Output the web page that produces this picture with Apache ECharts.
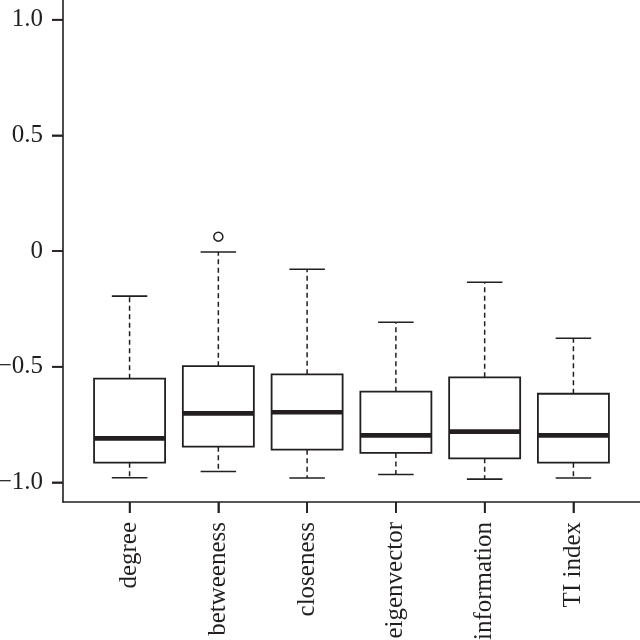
<!DOCTYPE html>
<html><head><meta charset="utf-8">
<script src="https://cdn.jsdelivr.net/npm/echarts@6/dist/echarts.min.js"></script>
<style>html,body{margin:0;padding:0;background:#fff}#c{width:640px;height:640px}</style>
</head><body><div id="c"></div>
<script>
const categories = ['degree','betweeness','closeness','eigenvector','information','TI index'];
const lowerWhisker = [-0.980,-0.953,-0.981,-0.966,-0.986,-0.981];
const q1 = [-0.915,-0.846,-0.859,-0.873,-0.896,-0.915];
const median = [-0.810,-0.702,-0.697,-0.797,-0.781,-0.797];
const q3 = [-0.552,-0.498,-0.533,-0.608,-0.546,-0.617];
const upperWhisker = [-0.195,-0.004,-0.079,-0.308,-0.135,-0.377];
const outliers = [[1, 0.062]];
const yTickValues = [-1,-0.5,0,0.5,1];
const yTickLabels = ['\u22121.0','\u22120.5','0','0.5','1.0'];

const C = '#231f20';
const FONT = '"Liberation Serif", "Times New Roman", Times, serif';
const X_MIN = -0.75, X_MAX = 5.75, Y_MIN = -1.085, Y_MAX = 1.085;
const TICK_LEN = 11;

const boxData = categories.map((c, i) => [i, lowerWhisker[i], q1[i], median[i], q3[i], upperWhisker[i]]);
const xTickIdx = categories.map((c, i) => i);

function renderItem(params, api) {
  const i = api.value(0);
  const bw = api.size([1, 0])[0];
  const half = bw * 0.4, cap = bw * 0.2;
  const pLo = api.coord([i, api.value(1)]);
  const pQ1 = api.coord([i, api.value(2)]);
  const pMed = api.coord([i, api.value(3)]);
  const pQ3 = api.coord([i, api.value(4)]);
  const pHi = api.coord([i, api.value(5)]);
  const x = pQ1[0];
  const dash = {stroke: C, lineWidth: 1.5, lineDash: [5, 3.5], fill: null};
  const solid = {stroke: C, lineWidth: 1.6, fill: null};
  return {
    type: 'group',
    children: [
      {type: 'line', shape: {x1: x, y1: pQ3[1], x2: x, y2: pHi[1]}, style: dash},
      {type: 'line', shape: {x1: x, y1: pQ1[1], x2: x, y2: pLo[1]}, style: dash},
      {type: 'line', shape: {x1: x - cap, y1: pHi[1], x2: x + cap, y2: pHi[1]}, style: solid},
      {type: 'line', shape: {x1: x - cap, y1: pLo[1], x2: x + cap, y2: pLo[1]}, style: solid},
      {type: 'rect', shape: {x: x - half, y: pQ3[1], width: 2 * half, height: pQ1[1] - pQ3[1]}, style: {stroke: C, lineWidth: 1.8, fill: '#fff'}},
      {type: 'line', shape: {x1: x - half, y1: pMed[1], x2: x + half, y2: pMed[1]}, style: {stroke: C, lineWidth: 4.6}}
    ]
  };
}

const chart = echarts.init(document.getElementById('c'), null, {renderer: 'canvas'});
chart.setOption({
  animation: false,
  backgroundColor: '#fff',
  grid: {left: 63, right: 0, top: 0, bottom: 138, containLabel: false, outerBoundsMode: 'none'},
  xAxis: {
    type: 'value', min: X_MIN, max: X_MAX,
    splitLine: {show: false},
    axisLine: {show: true, onZero: false, lineStyle: {color: C, width: 1.6}},
    axisTick: {show: true, customValues: xTickIdx, length: TICK_LEN, lineStyle: {color: C, width: 1.6}},
    axisLabel: {
      show: true, customValues: xTickIdx, rotate: 90, margin: 20,
      fontFamily: FONT, fontSize: 25, color: C,
      formatter: v => categories[Math.round(v)]
    }
  },
  yAxis: {
    type: 'value', min: Y_MIN, max: Y_MAX,
    splitLine: {show: false},
    axisLine: {show: true, onZero: false, lineStyle: {color: C, width: 1.6}},
    axisTick: {show: true, customValues: yTickValues, length: TICK_LEN, lineStyle: {color: C, width: 1.6}},
    axisLabel: {
      show: true, customValues: yTickValues, margin: 20,
      fontFamily: FONT, fontSize: 25, color: C,
      formatter: v => yTickLabels[yTickValues.findIndex(t => Math.abs(t - v) < 1e-9)]
    }
  },
  series: [
    {type: 'custom', renderItem: renderItem, data: boxData, encode: {x: 0, y: [1, 2, 3, 4, 5]}, clip: false, z: 2},
    {type: 'scatter', data: outliers, symbol: 'circle', symbolSize: 9, z: 5,
     itemStyle: {color: '#ffffff', borderColor: C, borderWidth: 1.5, opacity: 1}}
  ]
});

// Tick marks as graphic lines, positioned through the chart's own scales
const tickGraphics = [];
yTickValues.forEach(v => {
  const p = chart.convertToPixel({gridIndex: 0}, [X_MIN, v]);
  tickGraphics.push({type: 'line', z: 100, silent: true,
    shape: {x1: p[0] - TICK_LEN, y1: p[1], x2: p[0], y2: p[1]},
    style: {stroke: C, lineWidth: 1.6}});
});
xTickIdx.forEach(i => {
  const p = chart.convertToPixel({gridIndex: 0}, [i, Y_MIN]);
  tickGraphics.push({type: 'line', z: 100, silent: true,
    shape: {x1: p[0], y1: p[1], x2: p[0], y2: p[1] + TICK_LEN},
    style: {stroke: C, lineWidth: 1.6}});
});
chart.setOption({graphic: {elements: tickGraphics}});
</script>
</body></html>
